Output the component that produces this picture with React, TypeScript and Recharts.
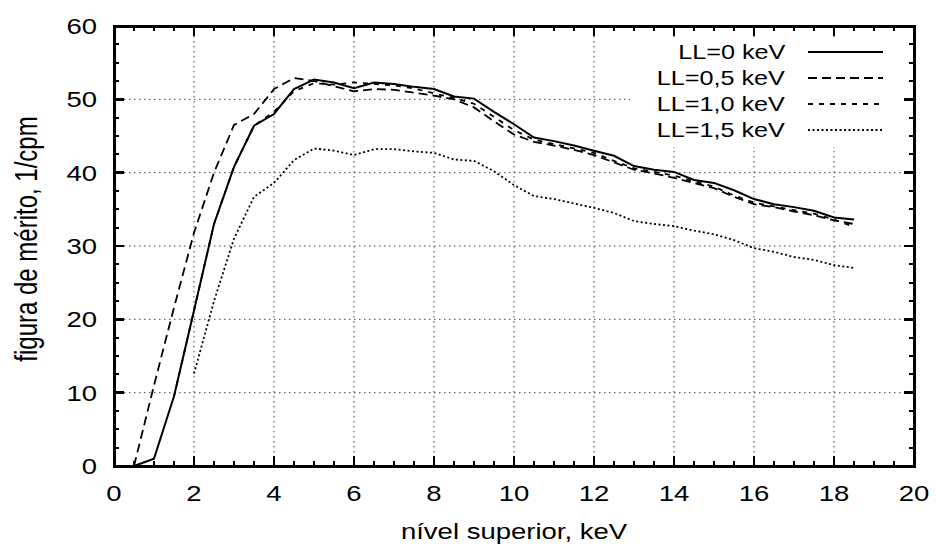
import React from 'react';
import { LineChart, Line, XAxis, YAxis, CartesianGrid, Legend, Label } from 'recharts';

// nível superior (keV)
const nivel = [
  0.5, 1, 1.5, 2, 2.5, 3, 3.5, 4, 4.5, 5, 5.5, 6, 6.5, 7, 7.5, 8, 8.5, 9, 9.5,
  10, 10.5, 11, 11.5, 12, 12.5, 13, 13.5, 14, 14.5, 15, 15.5, 16, 16.5, 17, 17.5, 18, 18.5,
];

// figura de mérito (1/cpm) for each lower level
const ll00 = [
  0, 1.0, 9.5, 21.2, 33.0, 40.8, 46.4, 48.0, 51.4, 52.7, 52.3, 51.5, 52.3, 52.1, 51.7, 51.4, 50.4, 50.1, 48.3,
  46.6, 44.8, 44.3, 43.7, 43.0, 42.3, 40.9, 40.4, 40.1, 39.0, 38.6, 37.6, 36.4, 35.7, 35.3, 34.8, 33.9, 33.6,
];
const ll05 = [
  0, 11.0, 21.6, 31.8, 40.0, 46.5, 48.0, 51.4, 52.9, 52.5, 51.8, 51.1, 51.4, 51.3, 50.9, 50.5, 50.0, 48.9, 47.0,
  45.2, 44.2, 43.7, 43.1, 42.4, 41.4, 40.4, 39.9, 39.3, 38.6, 37.9, 36.7, 35.7, 35.3, 34.7, 34.2, 33.5, 33.0,
];
const ll10 = [
  null, null, 9.5, 21.2, 33.0, 40.8, 46.4, 48.3, 51.1, 52.2, 52.0, 52.3, 52.1, 51.9, 51.5, 50.8, 50.2, 49.4, 47.6,
  45.8, 44.5, 43.9, 43.3, 42.7, 41.6, 40.6, 40.1, 39.6, 38.8, 38.1, 36.9, 35.9, 35.4, 34.9, 34.4, 33.6, 32.6,
];
const ll15 = [
  null, null, null, 12.6, 22.5, 31.0, 36.7, 38.6, 41.7, 43.3, 43.0, 42.4, 43.2, 43.2, 42.9, 42.7, 41.8, 41.6, 40.2,
  38.3, 36.8, 36.4, 35.8, 35.2, 34.5, 33.4, 33.0, 32.7, 32.1, 31.6, 30.8, 29.7, 29.2, 28.5, 28.1, 27.4, 27.0,
];

const xTicks = [0, 2, 4, 6, 8, 10, 12, 14, 16, 18, 20];
const yTicks = [0, 10, 20, 30, 40, 50, 60];
const xMinor = Array.from({ length: 41 }, (_, i) => i * 0.5);
const yMinor = Array.from({ length: 25 }, (_, i) => i * 2.5);
const X_DOMAIN = [0, 20];
const Y_DOMAIN = [0, 60];

const FONT = '"Liberation Sans", Arial, Helvetica, sans-serif';
const THIN = 0.01; // axes need a non-zero box to be drawn

// plot box in pixels
const M = { top: 26, right: 22, bottom: 78, left: 114 };
const W = 936;
const H = 544;
const PW = W - M.left - M.right;
const PH = H - M.top - M.bottom;

const series = [
  { key: 'll00', name: 'LL=0 keV', dash: undefined as string | undefined, width: 2 },
  { key: 'll05', name: 'LL=0,5 keV', dash: '9 5', width: 1.8 },
  { key: 'll10', name: 'LL=1,0 keV', dash: '5 6', width: 1.8 },
  { key: 'll15', name: 'LL=1,5 keV', dash: '2 2.5', width: 1.8 },
];

const data = nivel.map((x, i) => ({ x, ll00: ll00[i], ll05: ll05[i], ll10: ll10[i], ll15: ll15[i] }));

function XTick({ x, y, payload }: any) {
  return (
    <text x={0} y={0} transform={`translate(${x},${Number(y) + 35}) scale(1.25,1)`} textAnchor="middle"
      fontSize={22} fontFamily={FONT} fill="#000">
      {payload.value}
    </text>
  );
}

function YTick({ x, y, payload }: any) {
  return (
    <text x={0} y={0} dy={8} transform={`translate(${Number(x) - 17},${y}) scale(1.25,1)`} textAnchor="end"
      fontSize={22} fontFamily={FONT} fill="#000">
      {payload.value}
    </text>
  );
}

const sx = (v: number) => M.left + ((v - X_DOMAIN[0]) / (X_DOMAIN[1] - X_DOMAIN[0])) * PW;
const sy = (v: number) => M.top + PH - ((v - Y_DOMAIN[0]) / (Y_DOMAIN[1] - Y_DOMAIN[0])) * PH;

// gnuplot-style border with inward ticks on all four sides, as plain boxes
function Border() {
  const boxes: React.ReactNode[] = [];
  const mark = (k: string, left: number, top: number, w: number, h: number) =>
    boxes.push(<div key={k} style={{ position: 'absolute', left, top, width: w, height: h, background: '#000' }} />);
  const bottom = M.top + PH;
  const right = M.left + PW;
  xMinor.forEach((v) => {
    mark(`xb${v}`, sx(v) - 1, bottom - 5, 2, 5);
    mark(`xt${v}`, sx(v) - 1, M.top, 2, 5);
  });
  xTicks.forEach((v) => {
    mark(`XB${v}`, sx(v) - 1.25, bottom - 10, 2.5, 10);
    mark(`XT${v}`, sx(v) - 1.25, M.top, 2.5, 10);
  });
  yMinor.forEach((v) => {
    mark(`yl${v}`, M.left, sy(v) - 1, 5, 2);
    mark(`yr${v}`, right - 5, sy(v) - 1, 5, 2);
  });
  yTicks.forEach((v) => {
    mark(`YL${v}`, M.left, sy(v) - 1.25, 10, 2.5);
    mark(`YR${v}`, right - 10, sy(v) - 1.25, 10, 2.5);
  });
  return (
    <div style={{ position: 'absolute', left: 0, top: 0, width: W, height: H, pointerEvents: 'none', zIndex: 5 }}>
      {boxes}
      <div style={{
        position: 'absolute', left: M.left - 1.5, top: M.top - 1.5, width: PW + 3, height: PH + 3,
        border: '3px solid #000', boxSizing: 'border-box',
      }} />
    </div>
  );
}

function KeyBox() {
  return (
    <div style={{ background: '#fff', width: 272, height: 110, paddingTop: 2, boxSizing: 'border-box' }}>
      {series.map((s) => (
        <div key={s.key} style={{ display: 'flex', alignItems: 'center', height: 26 }}>
          <div style={{ width: 155, textAlign: 'right', fontFamily: FONT, fontSize: 21, lineHeight: '26px', color: '#000' }}>
            <span style={{ display: 'inline-block', transform: 'scaleX(1.2)', transformOrigin: 'right center' }}>
              {s.name}
            </span>
          </div>
          <svg width={75} height={26} style={{ marginLeft: 23 }}>
            <line x1={0} x2={75} y1={13} y2={13} stroke="#000" strokeWidth={s.width} strokeDasharray={s.dash} />
          </svg>
        </div>
      ))}
    </div>
  );
}

const bare = { axisLine: false, tickLine: false, tickSize: 0, tickMargin: 0, interval: 0 as const };

export default function App() {
  return (
    <div style={{ position: 'absolute', left: 0, top: 0, width: W, height: H, background: '#fff' }}>
      <LineChart width={W} height={H} data={data} margin={M}>
        <CartesianGrid stroke="#444" strokeDasharray="1.5 3.5" strokeWidth={1} />

        <XAxis dataKey="x" type="number" domain={X_DOMAIN} ticks={xTicks} height={THIN} {...bare} tick={<XTick />}>
          <Label content={({ viewBox }: any) => (
            <text x={0} y={0} transform={`translate(${viewBox.x + viewBox.width / 2},${viewBox.y + 73}) scale(1.25,1)`}
              textAnchor="middle" fontSize={22} fontFamily={FONT} fill="#000">
              nível superior, keV
            </text>
          )} />
        </XAxis>

        <YAxis type="number" domain={Y_DOMAIN} ticks={yTicks} width={THIN} {...bare} tick={<YTick />}>
          <Label content={({ viewBox }: any) => (
            <text x={0} y={0}
              transform={`translate(${viewBox.x - 77},${viewBox.y + viewBox.height / 2 - 7}) rotate(-90) scale(1,1.3)`}
              textAnchor="middle" fontSize={24} fontFamily={FONT} fill="#000">
              figura de mérito, 1/cpm
            </text>
          )} />
        </YAxis>

        <Legend layout="vertical" align="center" verticalAlign="middle" content={<KeyBox />}
          wrapperStyle={{ left: 630, top: 37, width: 272, height: 110 }} />

        {series.map((s) => (
          <Line key={s.key} dataKey={s.key} name={s.name} type="linear" stroke="#000" strokeWidth={s.width}
            strokeDasharray={s.dash} dot={false} activeDot={false} isAnimationActive={false} />
        ))}
      </LineChart>
      <Border />
    </div>
  );
}
